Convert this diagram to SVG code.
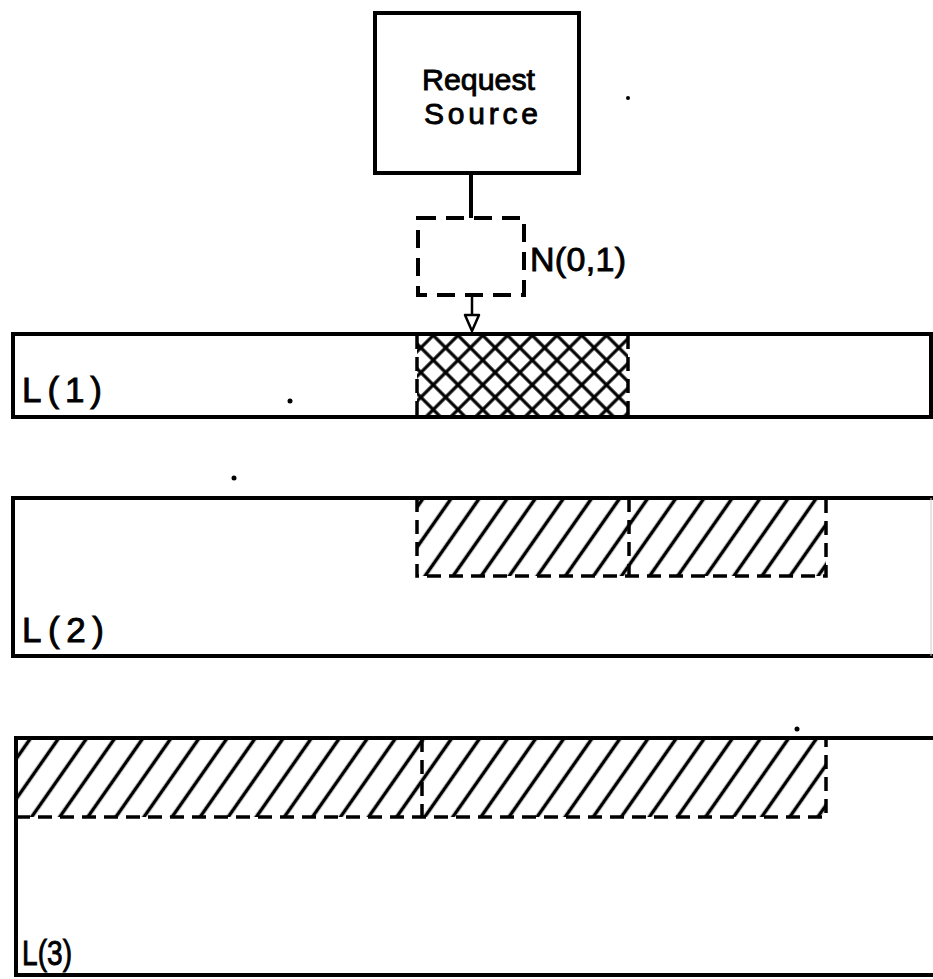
<svg xmlns="http://www.w3.org/2000/svg" width="933" height="979" viewBox="0 0 933 979">
<style>
.box{fill:none;stroke:#000;stroke-width:4}
.bar{fill:none;stroke:#000;stroke-width:4}
.dash{fill:none;stroke:#000;stroke-width:3.5;stroke-dasharray:14 8}
.lbl{font-family:"Liberation Sans",Arial,sans-serif;fill:#000;stroke:#000;stroke-width:0.9}
.dot{fill:#000}
</style>
<defs>
<pattern id="hatch" patternUnits="userSpaceOnUse" width="23" height="10" patternTransform="rotate(35)">
<line x1="11.5" y1="-1" x2="11.5" y2="11" stroke="#000" stroke-width="3.5"/>
</pattern>
<pattern id="xhatch" patternUnits="userSpaceOnUse" width="17.5" height="17.5" patternTransform="rotate(45 417 335)">
<line x1="8.75" y1="-1" x2="8.75" y2="19" stroke="#000" stroke-width="3.2"/>
<line x1="-1" y1="8.75" x2="19" y2="8.75" stroke="#000" stroke-width="3.2"/>
</pattern>
</defs>

<g id="request-source">
<rect class="box" x="375" y="13" width="204" height="160"/>
<text class="lbl" x="422" y="90" font-size="30" textLength="113" lengthAdjust="spacingAndGlyphs">Request</text>
<text class="lbl" x="424" y="124" font-size="30" textLength="114" lengthAdjust="spacing">Source</text>
</g>

<g id="n01">
<rect class="box" x="418" y="218" width="106" height="77" stroke-dasharray="18 10" stroke-width="3.5"/>
<text class="lbl" x="530" y="271" font-size="34" textLength="96" lengthAdjust="spacing">N(0,1)</text>
</g>

<g id="L1">
<rect x="417" y="335" width="211" height="82" fill="url(#xhatch)"/>
<rect class="bar" x="13" y="334" width="918" height="83"/>
<line class="dash" x1="417" y1="335" x2="417" y2="417"/>
<line class="dash" x1="628" y1="335" x2="628" y2="417"/>
<text class="lbl" x="22" y="402" font-size="35" textLength="80" lengthAdjust="spacing">L(1)</text>
</g>

<g id="L2">
<rect x="417" y="498" width="409" height="78" fill="url(#hatch)"/>
<path class="bar" d="M933,498 H13 V656 H933"/>
<line x1="931" y1="498" x2="931" y2="656" stroke="#ccc" stroke-width="1"/>
<path class="dash" d="M417,498 V576 H826 V498"/>
<line class="dash" x1="629" y1="498" x2="629" y2="576"/>
<text class="lbl" x="22" y="642" font-size="35" textLength="82" lengthAdjust="spacing">L(2)</text>
</g>

<g id="L3">
<rect x="16" y="738" width="810" height="79" fill="url(#hatch)"/>
<path class="bar" d="M933,738 H16 V975 H933"/>
<path class="dash" d="M16,817 H826 V738"/>
<line class="dash" x1="422" y1="738" x2="422" y2="817"/>
<text class="lbl" x="22" y="965" font-size="35" textLength="50" lengthAdjust="spacingAndGlyphs">L(3)</text>
</g>

<g id="connectors">
<line x1="471" y1="173" x2="471" y2="218" stroke="#000" stroke-width="4"/>
<line x1="472" y1="296" x2="472" y2="318" stroke="#000" stroke-width="2.5"/>
<path d="M465,315 L479,315 L472,331 Z" fill="#fff" stroke="#000" stroke-width="2.5" stroke-linejoin="round"/>
</g>

<g id="specks">
<circle class="dot" cx="628" cy="98" r="2"/>
<circle class="dot" cx="290" cy="401" r="2.5"/>
<circle class="dot" cx="234" cy="478" r="2.5"/>
<circle class="dot" cx="797" cy="729" r="2.5"/>
</g>
</svg>
